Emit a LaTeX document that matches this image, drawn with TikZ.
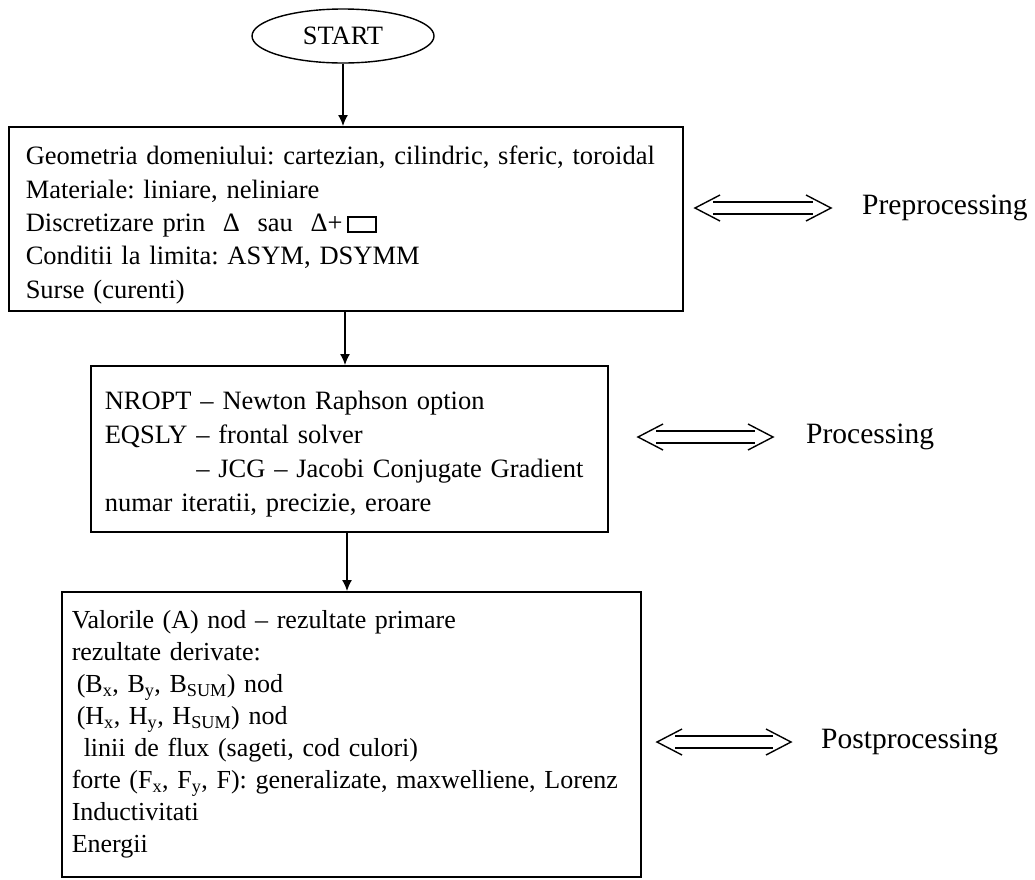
\documentclass[tikz,border=0pt]{standalone}
\usepackage{fontspec}
\setmainfont{Liberation Serif}
\usetikzlibrary{arrows.meta,shapes.geometric}

% small open rectangle used as a quad-element symbol
\newcommand{\quadsym}{{\setlength{\fboxsep}{0pt}\setlength{\fboxrule}{2pt}\raisebox{0pt}{\fbox{\rule{0pt}{13pt}\hspace{26pt}}}}}

\begin{document}
\frenchspacing
\begin{tikzpicture}[x=1pt,y=-1pt,
  txt/.style={font=\fontsize{26.5}{33.3}\selectfont},
  lbl/.style={font=\fontsize{29.5}{34}\selectfont, anchor=west, inner sep=0pt},
  stepbox/.style={draw, line width=1.5pt, rectangle, anchor=north west,
    align=left, inner ysep=0pt, txt},
  flow/.style={line width=1.3pt, -{Latex[length=11pt,width=10pt]}},
  dbl/.style={line width=1.4pt},
  pics/dblarrow/.style={code={
    \draw[dbl] (25,-13) -- (0,0) -- (25,13);
    \draw[dbl] (#1-25,-13) -- (#1,0) -- (#1-25,13);
    \draw[dbl] (18,-6) -- (#1-18,-6);
    \draw[dbl] (18,6) -- (#1-18,6);
  }}
]
\useasboundingbox (0,0) rectangle (1035,879);

% start terminal
\node[draw, ellipse, line width=1.4pt, minimum width=182pt, minimum height=54pt,
  inner sep=0pt, txt] (start) at (343,36) {START};

% preprocessing block
\node[stepbox, inner xsep=17pt, text width=640pt, minimum height=184pt] (pre) at (8,126) {%
\rule{0pt}{31pt}Geometria domeniului: cartezian, cilindric, sferic, toroidal\\
Materiale: liniare, neliniare\\
Discretizare prin \ Δ \ sau \ Δ+\,\quadsym\\
Conditii la limita: ASYM, DSYMM\\
Surse (curenti)};

% processing block
\node[stepbox, inner xsep=14pt, text width=489pt, minimum height=166pt,
  font=\fontsize{26.5}{34}\selectfont] (proc) at (90,365) {%
\rule{0pt}{30pt}NROPT – Newton Raphson option\\
EQSLY – frontal solver\\
\phantom{EQSLY} – JCG – Jacobi Conjugate Gradient\\
numar iteratii, precizie, eroare};

% postprocessing block
\node[stepbox, inner xsep=10pt, text width=559pt, minimum height=285pt,
  font=\fontsize{26}{31.9}\selectfont] (post) at (61,591) {%
Valorile (A) nod – rezultate primare\\
rezultate derivate:\\
\hspace{5pt}(B\textsubscript{x}, B\textsubscript{y}, B\textsubscript{SUM}) nod\\
\hspace{5pt}(H\textsubscript{x}, H\textsubscript{y}, H\textsubscript{SUM}) nod\\
\hspace{12pt}linii de flux (sageti, cod culori)\\
forte (F\textsubscript{x}, F\textsubscript{y}, F): generalizate, maxwelliene, Lorenz\\
Inductivitati\\
Energii};

% flow connectors
\draw[flow] (start.south) -- (start.south |- pre.north);
\draw[flow] ([xshift=2pt]start.south |- pre.south) -- ([xshift=2pt]start.south |- proc.north);
\draw[flow] ([xshift=4pt]start.south |- proc.south) -- ([xshift=4pt]start.south |- post.north);

% phase labels with double arrows
\node[lbl] (lpre) at (862,208) {Preprocessing};
\node[lbl] (lproc) at (806,437) {Processing};
\node[lbl] (lpost) at (821,742) {Postprocessing};

\pic at (695,208) {dblarrow=136};
\pic at (638,437) {dblarrow=135};
\pic at (657,742) {dblarrow=134};
\end{tikzpicture}
\end{document}
